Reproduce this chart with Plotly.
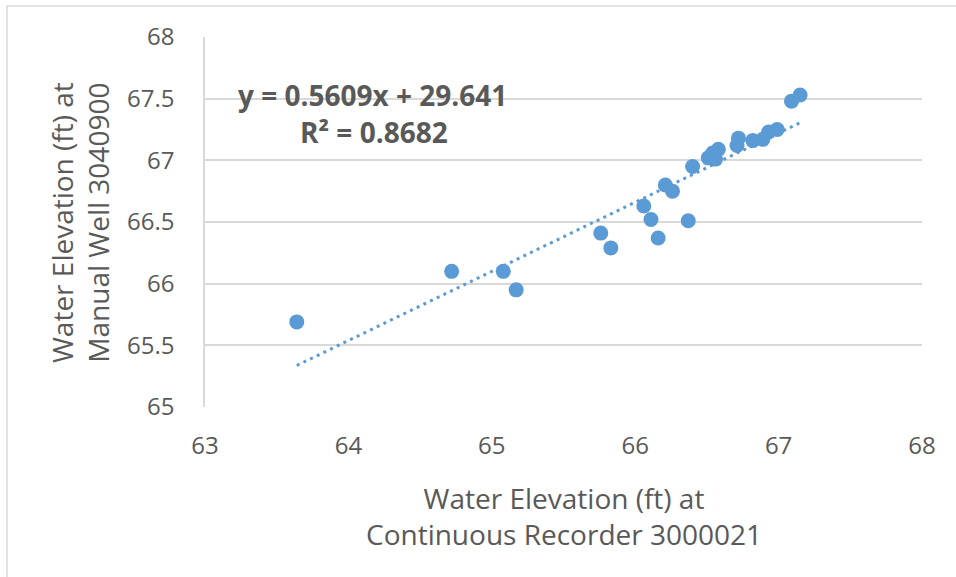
import plotly.graph_objects as go

# Data
x_recorder = [63.64, 64.72, 65.08, 65.17, 65.76, 65.83, 66.06, 66.11, 66.16, 66.37,
              66.21, 66.26, 66.40, 66.51, 66.54, 66.56, 66.58, 66.71, 66.72, 66.82,
              66.89, 66.93, 66.99, 67.09, 67.15]
y_manual = [65.69, 66.10, 66.10, 65.95, 66.41, 66.29, 66.63, 66.52, 66.37, 66.51,
            66.80, 66.75, 66.95, 67.02, 67.06, 67.01, 67.09, 67.12, 67.18, 67.16,
            67.17, 67.23, 67.25, 67.48, 67.53]

slope = 0.5609
intercept = 29.641
r2 = 0.8682

x_ticks = [63, 64, 65, 66, 67, 68]
y_ticks = [65, 65.5, 66, 66.5, 67, 67.5, 68]

x_title = "Water Elevation (ft) at<br>Continuous Recorder 3000021"
y_title = "Water Elevation (ft) at<br>Manual Well 3040900"

FONT = "Open Sans"
GREY = "#595959"
BLUE = "#5B9BD5"
GRID = "#D9D9D9"

tx = [min(x_recorder), max(x_recorder)]
ty = [slope * v + intercept for v in tx]

fig = go.Figure()
fig.add_trace(go.Scatter(
    x=tx, y=ty, mode="lines",
    line=dict(color=BLUE, width=3, dash="3px,4.4px"),
    hoverinfo="skip", showlegend=False))
fig.add_trace(go.Scatter(
    x=x_recorder, y=y_manual, mode="markers",
    marker=dict(color=BLUE, size=15, line=dict(width=0)),
    showlegend=False))

W, H = 956, 577
L, R, T, B = 205, 34, 37, 170

fig.update_layout(
    width=W, height=H,
    margin=dict(l=L, r=R, t=T, b=B),
    paper_bgcolor="white", plot_bgcolor="white",
    font=dict(family=FONT, color=GREY),
    xaxis=dict(range=[63, 68], tickvals=x_ticks, ticktext=[str(v) for v in x_ticks],
               showgrid=False, zeroline=False, showline=False,
               ticks="", tickfont=dict(size=24, color=GREY, family=FONT),
               ticklabelstandoff=22),
    yaxis=dict(range=[65, 68], tickvals=y_ticks, ticktext=[f"{v:g}" for v in y_ticks],
               showgrid=True, gridcolor=GRID, gridwidth=1.5, zeroline=False,
               showline=True, linecolor=GRID, linewidth=1.5,
               ticks="", tickfont=dict(size=24, color=GREY, family=FONT),
               ticklabelstandoff=24),
    annotations=[
        dict(text=f"<b>y = {slope}x + {intercept}</b>", xref="paper", yref="paper",
             x=(372 - L) / (W - L - R), y=(H - B - 95) / (H - T - B),
             showarrow=False, font=dict(size=28, color=GREY, family=FONT),
             xanchor="center", yanchor="middle"),
        dict(text=f"<b>R² = {r2}</b>", xref="paper", yref="paper",
             x=(374 - L) / (W - L - R), y=(H - B - 132) / (H - T - B),
             showarrow=False, font=dict(size=28, color=GREY, family=FONT),
             xanchor="center", yanchor="middle"),
        dict(text=x_title, xref="paper", yref="paper",
             x=0.5, y=(H - B - 516) / (H - T - B),
             showarrow=False, font=dict(size=28, color=GREY, family=FONT),
             xanchor="center", yanchor="middle", align="center"),
        dict(text=y_title, xref="paper", yref="paper",
             x=(80 - L) / (W - L - R), y=0.5, textangle=-90,
             showarrow=False, font=dict(size=28, color=GREY, family=FONT),
             xanchor="center", yanchor="middle", align="center"),
    ],
    shapes=[dict(type="rect", xref="paper", yref="paper",
                 x0=(7 - L) / (W - L - R), x1=(W + 10 - L) / (W - L - R),
                 y0=(H - B - (H + 10)) / (H - T - B), y1=(H - B - 6) / (H - T - B),
                 line=dict(color=GRID, width=1.5), layer="below")],
)

fig.write_html("out.html")
